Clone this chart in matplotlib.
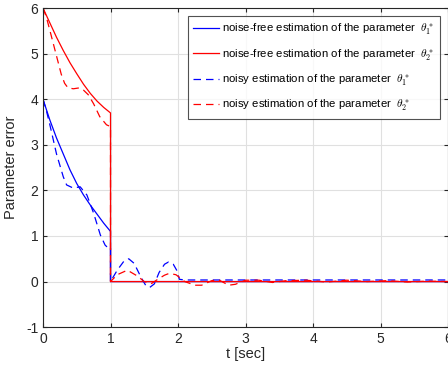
import numpy as np
import matplotlib
matplotlib.use("Agg")
from matplotlib import pyplot as plt

plt.rcParams['font.family'] = ['Liberation Sans', 'DejaVu Sans']
plt.rcParams['mathtext.fontset'] = 'cm'
plt.rcParams['axes.unicode_minus'] = False

# noise-free estimates (jump to zero at t=1)
t_free = [0, 0.1, 0.2, 0.3, 0.4, 0.5, 0.6, 0.7, 0.8, 0.9, 1.0, 1.0, 6.0]
theta1_free = [4.0, 3.55, 3.15, 2.8, 2.45, 2.15, 1.9, 1.68, 1.48, 1.28, 1.1, 0.0, 0.0]
theta2_free = [6.0, 5.68, 5.36, 5.07, 4.8, 4.56, 4.33, 4.13, 3.96, 3.82, 3.7, 0.0, 0.0]

# noisy estimates
t_n1 = [0, 0.05, 0.1, 0.2, 0.3, 0.35, 0.45, 0.55, 0.65, 0.75, 0.85, 0.92, 0.97, 1.0, 1.0,
        1.1, 1.2, 1.27, 1.35, 1.45, 1.52, 1.58, 1.65, 1.72, 1.8, 1.86, 1.93, 1.98, 2.02, 2.1, 6.0]
theta1_noisy = [4.0, 3.75, 3.45, 2.8, 2.3, 2.12, 2.05, 2.08, 1.9, 1.5, 1.02, 0.8, 0.73, 0.75, 0.0,
                0.25, 0.45, 0.5, 0.4, 0.1, -0.08, -0.13, -0.05, 0.2, 0.38, 0.43, 0.38, 0.25, 0.05, 0.035, 0.035]

t_n2 = [0, 0.05, 0.1, 0.2, 0.27, 0.32, 0.37, 0.45, 0.54, 0.6, 0.67, 0.75, 0.84, 0.94, 1.0, 1.0,
        1.1, 1.25, 1.4, 1.5, 1.6, 1.7, 1.8, 1.87, 1.97, 2.1, 2.25, 2.35, 2.5, 2.6, 2.75, 2.85,
        3.0, 3.2, 3.4, 3.6, 3.9, 4.2, 4.5, 4.8, 5.1, 5.4, 5.7, 6.0]
theta2_noisy = [6.0, 5.8, 5.52, 4.95, 4.55, 4.35, 4.25, 4.23, 4.25, 4.2, 4.1, 3.9, 3.62, 3.44, 3.4, 0.0,
                0.15, 0.25, 0.12, 0.0, -0.05, 0.05, 0.14, 0.18, 0.15, 0.0, -0.08, -0.08, 0.02, 0.04, -0.08, -0.06,
                0.03, 0.03, -0.02, 0.02, 0.03, -0.01, 0.03, 0.0, 0.02, -0.01, 0.01, 0.0]

fig = plt.figure(figsize=(4.48, 3.68), dpi=100)
ax = fig.add_axes([0.096, 0.111, 0.904, 0.867])

ax.plot(t_free, theta1_free, '-', color='#0000ff', lw=0.9,
        label=r'noise-free estimation of the parameter  $\theta^*_1$')
ax.plot(t_free, theta2_free, '-', color='#ff0000', lw=0.9,
        label=r'noise-free estimation of the parameter  $\theta^*_2$')
ax.plot(t_n1, theta1_noisy, '--', color='#0000ff', lw=0.9, dashes=(6, 4),
        label=r'noisy estimation of the parameter  $\theta^*_1$')
ax.plot(t_n2, theta2_noisy, '--', color='#ff0000', lw=0.9, dashes=(6, 4),
        label=r'noisy estimation of the parameter  $\theta^*_2$')

ax.set_xlim(0, 6)
ax.set_ylim(-1, 6)
ax.set_xticks(range(0, 7))
ax.set_yticks(range(-1, 7))
ax.grid(True, color='#e0e0e0', lw=0.8)
ax.set_axisbelow(True)
ax.tick_params(direction='in', top=True, right=True, labelsize=10, colors='#262626', length=3)
for s in ax.spines.values():
    s.set_color('#262626')
    s.set_linewidth(0.8)
ax.set_xlabel('t [sec]', fontsize=10.5, color='#262626', labelpad=1)
ax.set_ylabel('Parameter error', fontsize=10.5, color='#262626', labelpad=6)

leg = ax.legend(loc='upper right', prop={'size': 8.2}, frameon=True, fancybox=False,
                edgecolor='#262626', handlelength=2.3, handletextpad=0.25,
                borderaxespad=0.7, labelspacing=0.85, borderpad=0.5)
leg.get_frame().set_linewidth(0.8)

fig.savefig('out.png', dpi=100)
